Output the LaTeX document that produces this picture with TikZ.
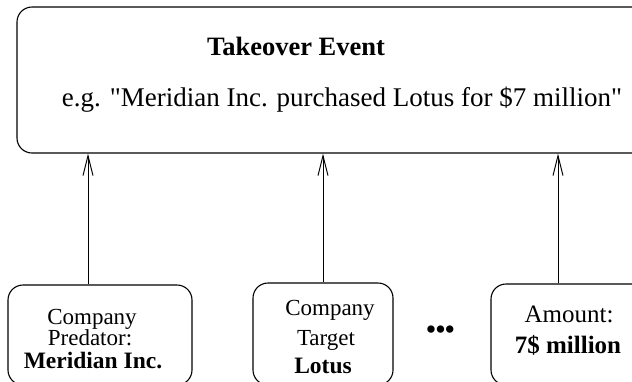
\documentclass[tikz,border=0pt]{standalone}
\usepackage{fontspec}
\setmainfont{Liberation Serif}[Ligatures=TeXOff]
\usetikzlibrary{arrows.meta}
\begin{document}
\begin{tikzpicture}[x=1pt,y=-1pt,
  box/.style={draw, line width=1.1pt, rounded corners=15pt, inner sep=0pt},
  lbl/.style={anchor=base, inner sep=0pt, font=\fontsize{23}{28}\selectfont},
  lblb/.style={lbl, font=\fontsize{23.5}{28}\selectfont\bfseries},
  big/.style={anchor=base, inner sep=0pt, font=\fontsize{25}{30}\selectfont},
  arr/.style={line width=1pt, -{Straight Barb[length=20pt,width=10pt,line width=1pt]}}]
\clip (0,0) rectangle (632,381);
\useasboundingbox (0,0) rectangle (632,381);
% top box
\node[box, minimum width=663pt, minimum height=146pt] (top) at (348.5,80) {};
\node[anchor=base, inner sep=0pt, font=\fontsize{26.5}{30}\selectfont\bfseries] (title) at (296,55) {Takeover Event};
\node[anchor=base, inner sep=0pt, font=\fontsize{27}{30}\selectfont] (example) at (342,106) {e.g. "Meridian Inc. purchased Lotus for \$7 million"};
% bottom boxes
\node[box, minimum width=184pt, minimum height=100pt] (b1) at (100,335) {};
\node[box, minimum width=140pt, minimum height=102pt] (b2) at (323,334) {};
\node[box, minimum width=169pt, minimum height=101pt] (b3) at (575.5,334.5) {};
% box 1 text
\node[lbl] (b1a) at (92,324) {Company};
\node[lbl] (b1b) at (90,345.5) {Predator:};
\node[lblb] (b1c) at (93,368) {Meridian Inc.};
% box 2 text
\node[lbl] (b2a) at (330,315) {Company};
\node[lbl] (b2b) at (326,345) {Target};
\node[lblb] (b2c) at (323,373) {Lotus};
% box 3 text
\node[big] (b3a) at (569,322) {Amount:};
\node[big, font=\fontsize{25}{30}\selectfont\bfseries] (b3b) at (568,353) {7\$ million};
% dots
\node[anchor=center, inner sep=0pt, font=\fontsize{27}{30}\selectfont\bfseries] (dots) at (440.5,332) {•••};
% arrows
\draw[arr] ([xshift=-12pt]b1.north) -- ([xshift=-12pt]b1.north |- top.south);
\draw[arr] (b2.north) -- (b2.north |- top.south);
\draw[arr] ([xshift=-17.5pt]b3.north) -- ([xshift=-17.5pt]b3.north |- top.south);
\end{tikzpicture}
\end{document}
